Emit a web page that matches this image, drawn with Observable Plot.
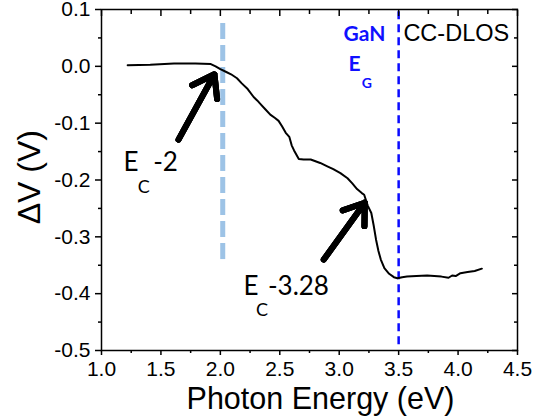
<!DOCTYPE html>
<html>
<head>
<meta charset="utf-8">
<script src="https://cdn.jsdelivr.net/npm/d3@7"></script>
<script src="https://cdn.jsdelivr.net/npm/@observablehq/plot@0.6"></script>
<style>
  html, body { margin: 0; padding: 0; background: #fff; }
  #chart { width: 542px; height: 418px; }
  svg { display: block; }
</style>
</head>
<body>
<div id="chart"></div>
<script>
const energy = [1.22, 1.41, 1.61, 1.79, 1.92, 1.96, 2.00, 2.05, 2.09, 2.14, 2.18, 2.23, 2.28, 2.31, 2.34, 2.38, 2.42, 2.46, 2.49, 2.52, 2.55, 2.58, 2.60, 2.62, 2.66, 2.70, 2.76, 2.84, 2.90, 2.95, 3.01, 3.07, 3.11, 3.15, 3.19, 3.21, 3.24, 3.27, 3.29, 3.31, 3.33, 3.35, 3.38, 3.42, 3.46, 3.49, 3.53, 3.57, 3.65, 3.74, 3.80, 3.86, 3.92, 3.95, 3.98, 4.02, 4.08, 4.14, 4.20];
const deltaV = [0.002, 0.003, 0.005, 0.005, 0.004, 0.0, -0.005, -0.010, -0.014, -0.021, -0.030, -0.040, -0.054, -0.060, -0.067, -0.076, -0.085, -0.091, -0.096, -0.106, -0.117, -0.124, -0.139, -0.148, -0.163, -0.164, -0.164, -0.170, -0.176, -0.181, -0.188, -0.197, -0.206, -0.216, -0.223, -0.226, -0.245, -0.258, -0.280, -0.305, -0.325, -0.340, -0.355, -0.365, -0.371, -0.373, -0.371, -0.370, -0.369, -0.368, -0.369, -0.370, -0.372, -0.368, -0.369, -0.364, -0.362, -0.360, -0.356];

const xTicks = [1.0, 1.5, 2.0, 2.5, 3.0, 3.5, 4.0, 4.5];
const xTickLabels = ["1.0", "1.5", "2.0", "2.5", "3.0", "3.5", "4.0", "4.5"];
const xMinor = [1.25, 1.75, 2.25, 2.75, 3.25, 3.75, 4.25];
const yTicks = [-0.5, -0.4, -0.3, -0.2, -0.1, 0.0, 0.1];
const yTickLabels = ["-0.5", "-0.4", "-0.3", "-0.2", "-0.1", "0.0", "0.1"];
const yMinor = [-0.45, -0.35, -0.25, -0.15, -0.05, 0.05];

const xLabel = "Photon Energy (eV)";
const yLabel = "\u0394V (V)";

// reference lines
const ecLine = [2.02];
const ecLineSpan = [-0.34, 0.079];
const ganLine = [3.5];
const ganLineSpan = [-0.49, 0.1];

// arrows
const arrows = [
  {x1: 1.648, y1: -0.129, x2: 1.95, y2: -0.014},
  {x1: 2.870, y1: -0.340, x2: 3.215, y2: -0.240}
];
const arrowHeads = [17, 12, 7];

// annotation texts
const annotations = [
  {x: 1.185, y: -0.1847, t: "E", size: 26, weight: "normal", color: "black", font: "Lato"},
  {x: 1.305, y: -0.222, t: "C", size: 18, weight: "normal", color: "black", font: "Lato"},
  {x: 1.435, y: -0.1847, t: "-2", size: 26, weight: "normal", color: "black", font: "Lato"},
  {x: 2.195, y: -0.4016, t: "E", size: 26, weight: "normal", color: "black", font: "Lato"},
  {x: 2.300, y: -0.440, t: "C", size: 18, weight: "normal", color: "black", font: "Lato"},
  {x: 2.400, y: -0.4016, t: "-3.28", size: 26, weight: "normal", color: "black", font: "Lato"},
  {x: 3.036, y: 0.0446, t: "GaN", size: 21, weight: "bold", color: "#1010ff", font: "Lato"},
  {x: 3.078, y: -0.0083, t: "E", size: 21, weight: "bold", color: "#1010ff", font: "Lato"},
  {x: 3.190, y: -0.038, t: "G", size: 14, weight: "bold", color: "#1010ff", font: "Lato"},
  {x: 3.540, y: 0.0446, t: "CC-DLOS", size: 23.5, weight: "normal", color: "black", font: "Liberation Sans"}
];

// axis title anchors (data coordinates)
const yLabelPos = {x: 0.40, y: -0.195};

const data = energy.map((e, i) => ({e, v: deltaV[i]}));

const axisFont = "'Liberation Sans', Arial, sans-serif";

const marks = [
  Plot.ruleX(ecLine, {x: d => d, y1: ecLineSpan[0], y2: ecLineSpan[1], stroke: "#9dc3e6", strokeWidth: 5, strokeDasharray: "16,6"}),
  Plot.ruleX(ganLine, {x: d => d, y1: ganLineSpan[0], y2: ganLineSpan[1], stroke: "#0a0aff", strokeWidth: 2.5, strokeDasharray: "8,5"}),
  Plot.line(data, {x: "e", y: "v", stroke: "black", strokeWidth: 2}),
  ...arrowHeads.map(h => Plot.arrow(arrows, {x1: "x1", y1: "y1", x2: "x2", y2: "y2", stroke: "black", strokeWidth: 6, headLength: h, headAngle: 70})),
  // axes
  Plot.axisY({ticks: yTicks, tickFormat: (d, i) => yTickLabels[i], tickSize: 6, tickPadding: 5, fontSize: 21, fontFamily: axisFont, label: null, strokeWidth: 1.5}),
  Plot.axisY({ticks: yMinor, tickSize: 3, text: null, label: null, strokeWidth: 1.5}),
  Plot.axisX({ticks: xTicks, tickFormat: (d, i) => xTickLabels[i], tickSize: 5, tickPadding: 6, fontSize: 21, fontFamily: axisFont, label: null, strokeWidth: 1.5}),
  Plot.axisX({ticks: xMinor, tickSize: 3, text: null, label: null, strokeWidth: 1.5}),
  Plot.axisX({anchor: "top", ticks: xTicks, tickSize: 6, dy: 6, text: null, label: null, strokeWidth: 1.5}),
  Plot.axisX({anchor: "top", ticks: xMinor, tickSize: 4, dy: 4, text: null, label: null, strokeWidth: 1.5}),
  Plot.axisY({anchor: "right", ticks: yTicks, tickSize: 6, dx: -6, text: null, label: null, strokeWidth: 1.5}),
  Plot.axisY({anchor: "right", ticks: yMinor, tickSize: 4, dx: -4, text: null, label: null, strokeWidth: 1.5}),
  Plot.frame({stroke: "black", strokeWidth: 1.5}),
  // axis titles
  Plot.text([xLabel], {text: d => d, frameAnchor: "bottom", dx: 11, dy: 58, lineAnchor: "bottom", fontSize: 30.5, fontFamily: axisFont, fill: "black"}),
  Plot.text([yLabel], {text: d => d, x: () => yLabelPos.x, y: () => yLabelPos.y, rotate: -90, fontSize: 32, fontFamily: axisFont, fill: "black"})
];

for (const a of annotations) {
  marks.push(Plot.text([a], {x: "x", y: "y", text: "t", textAnchor: "start", lineAnchor: "bottom", fontSize: a.size, fontWeight: a.weight, fill: a.color, fontFamily: a.font}));
}

const chart = Plot.plot({
  width: 542,
  height: 418,
  marginLeft: 101,
  marginRight: 25,
  marginTop: 9,
  marginBottom: 68,
  x: {domain: [1, 4.5]},
  y: {domain: [-0.5, 0.1]},
  style: {background: "white", color: "black", overflow: "visible"},
  marks
});
document.getElementById("chart").appendChild(chart);
</script>
</body>
</html>
